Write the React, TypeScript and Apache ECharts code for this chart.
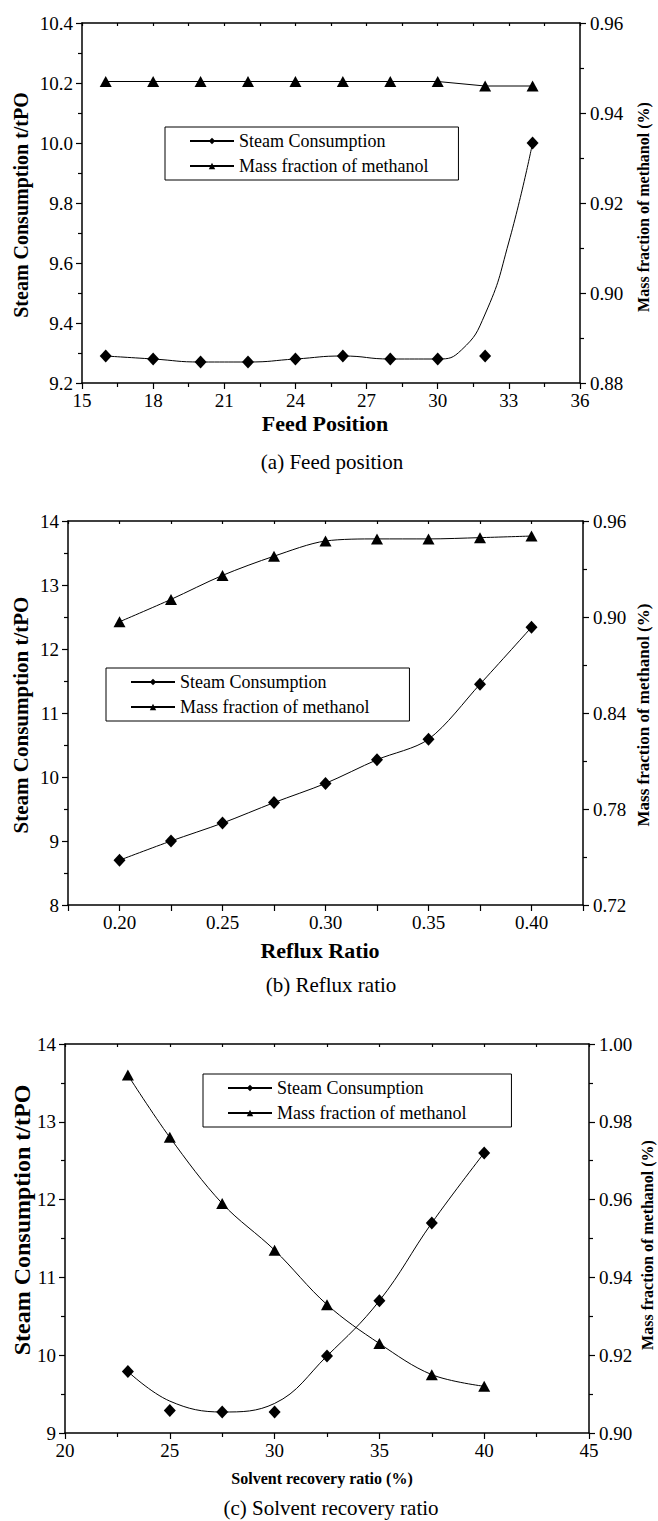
import React, { useEffect, useRef } from "react";
import * as echarts from "echarts";

// ---------- Data ----------
// (a) Feed position
const feedX = [16, 18, 20, 22, 24, 26, 28, 30, 32, 34];
const steamA = [9.29, 9.28, 9.27, 9.27, 9.28, 9.29, 9.28, 9.28, 9.29, 10.0];
const massA = [0.947, 0.947, 0.947, 0.947, 0.947, 0.947, 0.947, 0.947, 0.946, 0.946];
// fitted curve of steam consumption
const steamFitAX = [16, 18, 20, 22, 24, 26, 28, 30, 31, 32, 33, 34];
const steamFitAY = [9.29, 9.28, 9.27, 9.27, 9.28, 9.29, 9.28, 9.28, 9.31, 9.43, 9.67, 10.0];

// (b) Reflux ratio
const refluxX = [0.2, 0.225, 0.25, 0.275, 0.3, 0.325, 0.35, 0.375, 0.4];
const steamB = [8.7, 9.0, 9.28, 9.6, 9.9, 10.27, 10.59, 11.45, 12.34];
const massB = [0.897, 0.911, 0.926, 0.938, 0.9475, 0.9488, 0.9488, 0.9496, 0.9506];

// (c) Solvent recovery ratio
const solventX = [23, 25, 27.5, 30, 32.5, 35, 37.5, 40];
const steamC = [9.79, 9.29, 9.27, 9.27, 9.99, 10.7, 11.7, 12.6];
const massC = [0.992, 0.976, 0.959, 0.947, 0.933, 0.923, 0.915, 0.912];
// fitted curve of steam consumption
const steamFitCX = [23, 25, 27.5, 30, 32.5, 35, 37.5, 40];
const steamFitCY = [9.79, 9.41, 9.27, 9.38, 9.99, 10.7, 11.7, 12.6];

const legendNames = ["Steam Consumption", "Mass fraction of methanol"];
const yTitle = "Steam Consumption t/tPO";
const y2Title = "Mass fraction of methanol (%)";
const xTitles = ["Feed Position", "Reflux Ratio", "Solvent recovery ratio (%)"];
const captions = ["(a) Feed position", "(b) Reflux ratio", "(c) Solvent recovery ratio"];

const zip = (xs: number[], ys: number[]) => xs.map((x, i) => [x, ys[i]]);

const FONT = '"Liberation Serif", "Times New Roman", serif';
const BLACK = "#000";

export default function App() {
  const ref = useRef<HTMLDivElement>(null);

  useEffect(() => {
    if (!ref.current) return;
    const chart = echarts.init(ref.current, undefined, { renderer: "svg" });

    const grids = [
      { left: 82, top: 23, width: 498, height: 360 },
      { left: 68, top: 521, width: 515, height: 384 },
      { left: 65, top: 1044, width: 524, height: 389 },
    ];

    const axisLine = { show: true, lineStyle: { color: BLACK, width: 1.5 } };
    const labelStyle = { color: BLACK, fontFamily: FONT, fontSize: 19 };

    const bottomX = (gi: number, min: number, max: number, interval: number, fmt: (v: number) => string) => ({
      type: "value",
      gridIndex: gi,
      position: "bottom",
      min,
      max,
      interval,
      axisLine,
      axisTick: { show: true, inside: false, length: 6, lineStyle: { color: BLACK, width: 1.2 } },
      minorTick: { show: gi !== 1, splitNumber: 2, length: 4, lineStyle: { color: BLACK, width: 1.2 } },
      axisLabel: { ...labelStyle, margin: 8, formatter: fmt, showMinLabel: true, showMaxLabel: true },
      splitLine: { show: false },
    });
    const topX = (gi: number, min: number, max: number, interval: number) => ({
      type: "value",
      gridIndex: gi,
      position: "top",
      min,
      max,
      interval,
      axisLine,
      axisTick: { show: true, inside: true, length: 3, lineStyle: { color: BLACK, width: 1.2 } },
      minorTick: { show: gi !== 1, splitNumber: 2, length: 3, lineStyle: { color: BLACK, width: 1.2 } },
      axisLabel: { show: false },
      splitLine: { show: false },
    });
    const yAx = (gi: number, pos: "left" | "right", min: number, max: number, interval: number, digits: number) => ({
      type: "value",
      gridIndex: gi,
      position: pos,
      min,
      max,
      interval,
      axisLine,
      axisTick: { show: true, inside: false, length: 6, lineStyle: { color: BLACK, width: 1.2 } },
      minorTick: { show: true, splitNumber: 2, length: 4, lineStyle: { color: BLACK, width: 1.2 } },
      axisLabel: { ...labelStyle, margin: pos === "left" ? 9 : 10, formatter: (v: number) => v.toFixed(digits) },
      splitLine: { show: false },
    });

    const refluxFmt = (v: number) => {
      const k = Math.round(v * 1000);
      return k % 50 === 0 ? (k / 1000).toFixed(2) : "";
    };

    const lineStyle = { color: BLACK, width: 1 };
    const itemStyle = { color: BLACK, opacity: 1 };
    const diamond = { symbol: "diamond", symbolSize: [12, 13] };
    const triangle = { symbol: "triangle", symbolSize: [12, 11] };

    const series: any[] = [
      // (b) first so that the legend icons take their line + marker look
      {
        name: legendNames[0], type: "line", xAxisIndex: 1, yAxisIndex: 2,
        data: zip(refluxX, steamB), smooth: 0.3, ...diamond, lineStyle, itemStyle,
      },
      {
        name: legendNames[1], type: "line", xAxisIndex: 1, yAxisIndex: 3,
        data: zip(refluxX, massB), smooth: 0.3, ...triangle, lineStyle, itemStyle,
      },
      // (a)
      {
        name: "steamFitA", type: "line", xAxisIndex: 0, yAxisIndex: 0,
        data: zip(steamFitAX, steamFitAY), smooth: 0.5,
        symbol: "none", lineStyle, itemStyle,
      },
      {
        name: legendNames[0], type: "scatter", xAxisIndex: 0, yAxisIndex: 0,
        data: zip(feedX, steamA), ...diamond, itemStyle,
      },
      {
        name: legendNames[1], type: "line", xAxisIndex: 0, yAxisIndex: 1,
        data: zip(feedX, massA), ...triangle, lineStyle, itemStyle,
      },
      // (c)
      {
        name: "steamFitC", type: "line", xAxisIndex: 2, yAxisIndex: 4,
        data: zip(steamFitCX, steamFitCY), smooth: 0.4, symbol: "none", lineStyle, itemStyle,
      },
      {
        name: legendNames[0], type: "scatter", xAxisIndex: 2, yAxisIndex: 4,
        data: zip(solventX, steamC), ...diamond, itemStyle,
      },
      {
        name: legendNames[1], type: "line", xAxisIndex: 2, yAxisIndex: 5,
        data: zip(solventX, massC), smooth: 0.35, ...triangle, lineStyle, itemStyle,
      },
    ];

    const legend = (left: number, top: number, padRight: number) => ({
      orient: "vertical",
      left,
      top,
      data: legendNames,
      itemWidth: 44,
      itemHeight: 8,
      itemGap: 7,
      padding: [5, padRight, 5, 24],
      borderColor: BLACK,
      borderWidth: 1,
      borderRadius: 0,
      selectedMode: false,
      textStyle: { color: BLACK, fontFamily: FONT, fontSize: 18, padding: [0, 0, 0, 0] },
    });

    const gtext = (text: string, x: number, y: number, size: number, bold: boolean, rotate = false) => ({
      type: "text",
      x,
      y,
      rotation: rotate ? Math.PI / 2 : 0,
      style: {
        text,
        fill: BLACK,
        font: `${bold ? "bold " : ""}${size}px ${FONT}`,
        align: "center",
        verticalAlign: "middle",
      },
    });

    const graphic = [
      // panel a
      gtext(yTitle, 21, 205, 20, true, true),
      gtext(y2Title, 643, 207, 16, true, true),
      gtext(xTitles[0], 325, 423, 22, true),
      gtext(captions[0], 332, 462, 21, false),
      // panel b
      gtext(yTitle, 21, 715, 21, true, true),
      gtext(y2Title, 643, 715, 17, true, true),
      gtext(xTitles[1], 320, 950, 22, true),
      gtext(captions[1], 331, 985, 21, false),
      // panel c
      gtext(yTitle, 22, 1220, 24, true, true),
      gtext(y2Title, 647, 1245, 16, true, true),
      gtext(xTitles[2], 322, 1478, 16, true),
      gtext(captions[2], 331, 1508, 21, false),
    ];

    chart.setOption({
      animation: false,
      backgroundColor: "#fff",
      textStyle: { fontFamily: FONT },
      grid: grids,
      xAxis: [
        bottomX(0, 15, 36, 3, (v) => String(v)),
        bottomX(1, 0.175, 0.425, 0.025, refluxFmt),
        bottomX(2, 20, 45, 5, (v) => String(v)),
        topX(0, 15, 36, 3),
        topX(1, 0.175, 0.425, 0.025),
        topX(2, 20, 45, 5),
      ],
      yAxis: [
        yAx(0, "left", 9.2, 10.4, 0.2, 1),
        yAx(0, "right", 0.88, 0.96, 0.02, 2),
        yAx(1, "left", 8, 14, 1, 0),
        yAx(1, "right", 0.72, 0.96, 0.06, 2),
        yAx(2, "left", 9, 14, 1, 0),
        yAx(2, "right", 0.9, 1.0, 0.02, 2),
      ],
      legend: [legend(165, 127, 30), legend(106, 668, 40), legend(203, 1074, 45)],
      series,
      graphic,
    });

    return () => chart.dispose();
  }, []);

  return (
    <div
      ref={ref}
      style={{ position: "absolute", left: 0, top: 0, width: 658, height: 1521, background: "#fff" }}
    />
  );
}
